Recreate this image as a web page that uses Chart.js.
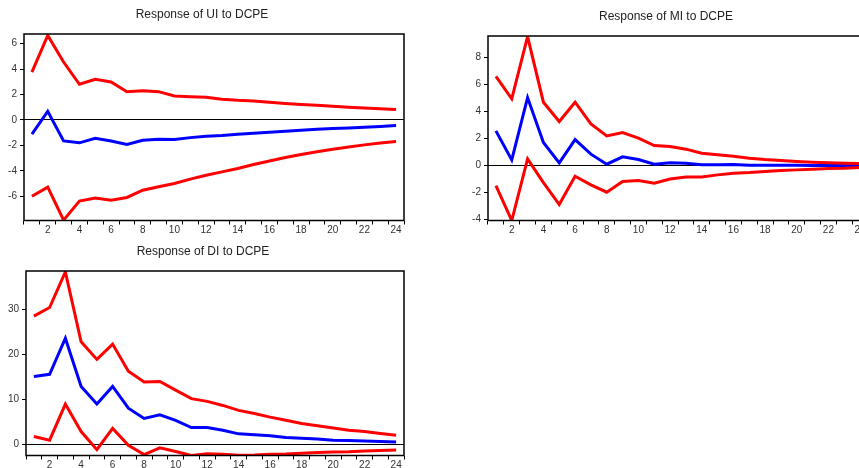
<!DOCTYPE html>
<html>
<head>
<meta charset="utf-8">
<script src="https://cdn.jsdelivr.net/npm/chart.js"></script>
<style>
  html, body { margin: 0; padding: 0; background: #fff; overflow: hidden; width: 859px; height: 468px; }
  canvas { position: absolute; }
  #cUI { left: 0px; top: 0px; }
  #cMI { left: 464px; top: 2px; }
  #cDI { left: 2px; top: 237px; }
</style>
</head>
<body>
<canvas id="cUI" width="430" height="234"></canvas>
<canvas id="cMI" width="430" height="232"></canvas>
<canvas id="cDI" width="428" height="232"></canvas>
<script>
// periods 1..24
let periodos = [];
for (let i = 1; i <= 24; i++) periodos.push(String(i));

// Response of UI to DCPE
let uiUpper = [3.76, 6.64, 4.55, 2.8, 3.19, 2.98, 2.22, 2.3, 2.22, 1.88, 1.83, 1.78, 1.62, 1.54, 1.49, 1.39, 1.3, 1.22, 1.15, 1.07, 1.0, 0.94, 0.87, 0.81];
let uiResp = [-1.12, 0.68, -1.65, -1.8, -1.44, -1.65, -1.93, -1.6, -1.52, -1.54, -1.39, -1.28, -1.23, -1.12, -1.05, -0.97, -0.89, -0.81, -0.73, -0.68, -0.63, -0.58, -0.52, -0.44];
let uiLower = [-5.99, -5.28, -7.87, -6.38, -6.14, -6.3, -6.09, -5.52, -5.25, -4.99, -4.65, -4.35, -4.08, -3.82, -3.5, -3.22, -2.95, -2.72, -2.5, -2.3, -2.12, -1.96, -1.82, -1.7];

// Response of MI to DCPE
let miUpper = [6.58, 4.93, 9.53, 4.68, 3.25, 4.68, 3.08, 2.19, 2.44, 2.02, 1.48, 1.4, 1.21, 0.91, 0.79, 0.69, 0.54, 0.44, 0.37, 0.3, 0.25, 0.2, 0.17, 0.15];
let miResp = [2.56, 0.42, 5.02, 1.7, 0.2, 1.92, 0.84, 0.1, 0.64, 0.44, 0.1, 0.2, 0.17, 0.05, 0.05, 0.07, 0.03, 0.02, 0.02, 0.02, 0.01, 0.01, 0.01, 0.01];
let miLower = [-1.48, -4.06, 0.49, -1.26, -2.88, -0.79, -1.43, -1.97, -1.18, -1.11, -1.31, -0.99, -0.84, -0.84, -0.69, -0.57, -0.52, -0.44, -0.37, -0.32, -0.27, -0.22, -0.2, -0.15];

// Response of DI to DCPE
let diUpper = [28.5, 30.4, 38.3, 22.8, 18.9, 22.3, 16.3, 13.9, 14.0, 12.1, 10.2, 9.6, 8.7, 7.6, 6.9, 6.1, 5.4, 4.7, 4.2, 3.7, 3.2, 2.9, 2.5, 2.1];
let diResp = [15.1, 15.6, 23.6, 12.9, 9.0, 12.9, 8.1, 5.8, 6.6, 5.4, 3.8, 3.8, 3.2, 2.4, 2.2, 2.0, 1.6, 1.4, 1.25, 1.0, 0.9, 0.8, 0.7, 0.6];
let diLower = [1.8, 1.0, 9.0, 2.9, -1.1, 3.6, -0.15, -2.2, -0.7, -1.5, -2.4, -2.0, -2.1, -2.35, -2.3, -2.1, -2.05, -1.9, -1.75, -1.6, -1.55, -1.4, -1.3, -1.2];

const fuente = "'Liberation Sans', Arial, sans-serif";

// box around the plot area
const marco = {
    id: "marco",
    afterDraw(chart) {
        let a = chart.chartArea;
        let ctx = chart.ctx;
        ctx.save();
        ctx.strokeStyle = "#000";
        ctx.lineWidth = 1.5;
        ctx.strokeRect(a.left, a.top, a.right - a.left, a.bottom - a.top);
        ctx.restore();
    }
};

function linea(data, color) {
    return {
        data: data,
        borderColor: color,
        backgroundColor: color,
        borderWidth: 3,
        pointRadius: 0,
        tension: 0,
        fill: false
    };
}

function panel(id, titulo, upper, resp, lower, yMin, yMax, paso) {
    new Chart(id, {
        type: "line",
        data: {
            labels: periodos,
            datasets: [linea(upper, "#ff0000"), linea(lower, "#ff0000"), linea(resp, "#0000ff")]
        },
        options: {
            responsive: false,
            animation: false,
            layout: { padding: { left: 0, right: 26, top: 0, bottom: 0 } },
            plugins: {
                legend: { display: false },
                tooltip: { enabled: false },
                title: {
                    display: true,
                    text: titulo,
                    color: "#222",
                    font: { family: fuente, size: 12, weight: "normal", lineHeight: 1.2 },
                    padding: { top: 7, bottom: 12.6 }
                }
            },
            scales: {
                x: {
                    offset: true,
                    afterFit: function (s) { s.height = 13.5; },
                    border: { display: false },
                    grid: { offset: true, drawOnChartArea: false, drawTicks: true, tickLength: 4, color: "#000" },
                    ticks: {
                        autoSkip: false,
                        maxRotation: 0,
                        padding: 0,
                        color: "#333",
                        font: { family: fuente, size: 10 },
                        callback: function (v, i) { return i % 2 === 1 ? this.getLabelForValue(v) : ""; }
                    }
                },
                y: {
                    min: yMin,
                    max: yMax,
                    afterFit: function (s) { s.width = 24; },
                    border: { display: false },
                    grid: {
                        drawOnChartArea: true,
                        tickLength: 4,
                        tickColor: "#000",
                        lineWidth: 1,
                        color: function (c) { return c.tick && c.tick.value === 0 ? "#000" : "rgba(0,0,0,0)"; }
                    },
                    ticks: {
                        stepSize: paso,
                        includeBounds: false,
                        padding: 3,
                        color: "#333",
                        font: { family: fuente, size: 10 }
                    }
                }
            }
        },
        plugins: [marco]
    });
}

panel("cUI", "Response of UI to DCPE", uiUpper, uiResp, uiLower, -7.9, 6.75, 2);
panel("cMI", "Response of MI to DCPE", miUpper, miResp, miLower, -4.06, 9.57, 2);
panel("cDI", "Response of DI to DCPE", diUpper, diResp, diLower, -2.4, 38.5, 10);
</script>
</body>
</html>
